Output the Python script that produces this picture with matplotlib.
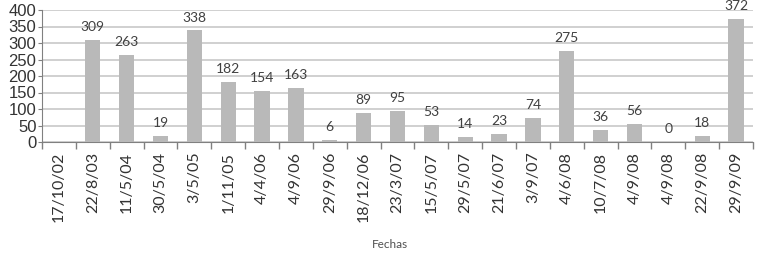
import numpy as np
import matplotlib.pyplot as plt

fechas = ["17/10/02", "22/8/03", "11/5/04", "30/5/04", "3/5/05", "1/11/05",
          "4/4/06", "4/9/06", "29/9/06", "18/12/06", "23/3/07", "15/5/07",
          "29/5/07", "21/6/07", "3/9/07", "4/6/08", "10/7/08", "4/9/08",
          "4/9/08", "22/9/08", "29/9/09"]
valores = [None, 309, 263, 19, 338, 182, 154, 163, 6, 89, 95, 53,
           14, 23, 74, 275, 36, 56, 0, 18, 372]

fig = plt.figure(figsize=(7.66, 2.57), dpi=100)
ax = fig.add_axes([42 / 766, 1 - 142 / 257, (753 - 42) / 766, (142 - 10) / 257])

x = np.arange(len(fechas))
alturas = [np.nan if v is None else v for v in valores]
bars = ax.bar(x, alturas, width=0.45, color="#b9b9b9", zorder=3)

# etiquetas sobre las barras
for xi, v in zip(x, valores):
    if v is None:
        continue
    ax.annotate(str(v), (xi, v), xytext=(0, 5), textcoords="offset points",
                ha="center", va="bottom", fontsize=10, family="Lato",
                color="#404040", annotation_clip=False)

ax.set_xlim(-0.5, len(fechas) - 0.5)
ax.set_ylim(0, 400)
ax.set_yticks(np.arange(0, 401, 50))
ax.yaxis.grid(True, color="#c8c8c8", linewidth=1.2, zorder=0)

ax.set_xticks(x)
ax.set_xticklabels(fechas, rotation=90, fontsize=11.5, family="Lato", color="#333333")
ax.tick_params(axis="x", which="major", length=0, pad=7)
ax.set_xticks(np.arange(-0.5, len(fechas)), minor=True)
ax.tick_params(axis="x", which="minor", length=5, color="#808080", width=1)

for lab in ax.get_yticklabels():
    lab.set_family("Liberation Sans")
ax.tick_params(axis="y", labelsize=12, length=3, color="#808080", labelcolor="#333333", pad=1)

for s in ["top", "right"]:
    ax.spines[s].set_visible(False)
ax.spines["left"].set_color("#808080")
ax.spines["bottom"].set_color("#808080")

fig.text(390 / 766, 1 - 245 / 257, "Fechas", ha="center", va="center",
         fontsize=8.5, family="Lato", color="#505050")

fig.savefig("out.png", dpi=100)
